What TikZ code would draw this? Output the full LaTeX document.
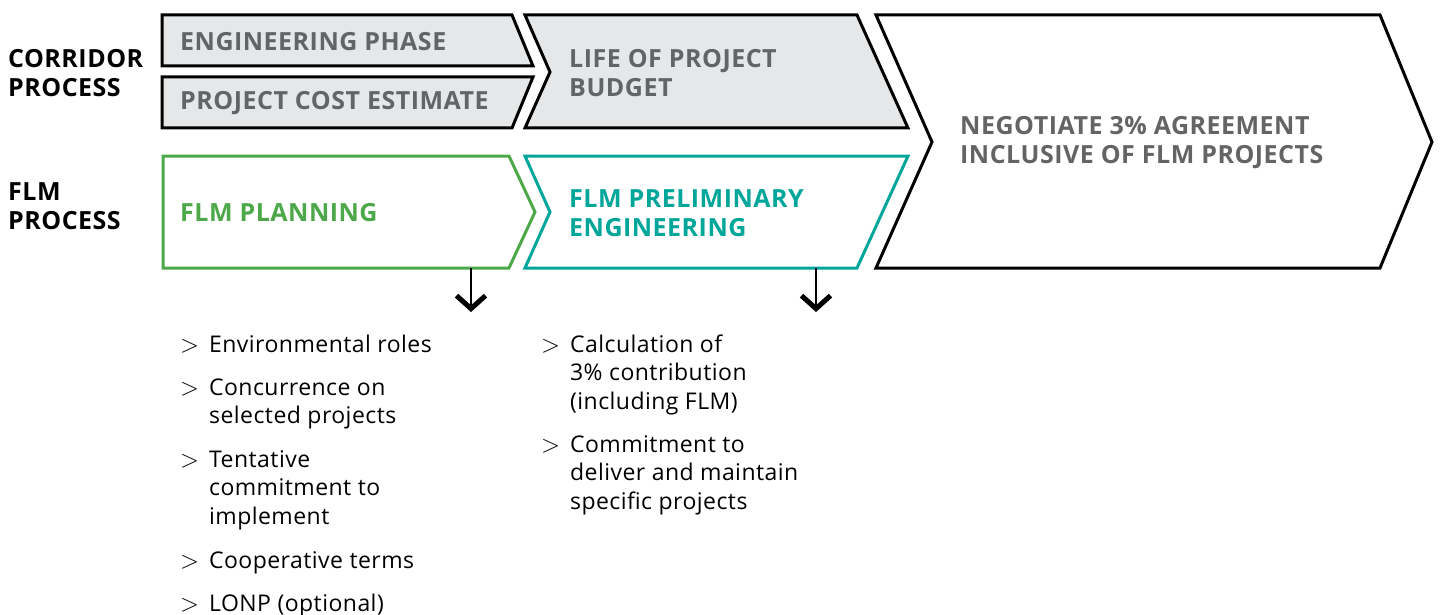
\documentclass[tikz,border=0pt]{standalone}
\usepackage{fontspec}
\setmainfont{Open Sans}
\usetikzlibrary{arrows.meta}
\definecolor{boxfill}{RGB}{230,231,232}
\definecolor{headgray}{RGB}{99,100,102}
\definecolor{flmgreen}{RGB}{76,168,72}
\definecolor{flmteal}{RGB}{0,166,153}
\tikzset{
  phase/.style={line width=3pt,line join=miter,miter limit=20},
  head/.style={inner sep=0,anchor=west,align=left,font=\fontsize{25}{29}\selectfont\bfseries\addfontfeatures{LetterSpace=2}},
  side/.style={head,text=black},
  itm/.style={inner sep=0,anchor=base west,font=\fontsize{23}{28.5}\selectfont\addfontfeatures{LetterSpace=2}},
  down/.style={line width=2.5pt,-{Straight Barb[length=13pt,width=29pt,line width=5pt]}}
}
\newcommand{\entry}[1]{\begin{tabular}[t]{@{}l@{\hspace{10pt}}l@{}}$>$ & #1\end{tabular}}
\begin{document}
\begin{tikzpicture}[x=1pt,y=-1pt]
  \useasboundingbox (0,0) rectangle (1440,615);
  % corridor row
  \coordinate (EP1) at (162,15);  \coordinate (EP2) at (512,15);
  \coordinate (EP3) at (533,66);  \coordinate (EP4) at (162,66);
  \coordinate (PC1) at (162,77);  \coordinate (PC2) at (533,77);
  \coordinate (PC3) at (512,128); \coordinate (PC4) at (162,128);
  \coordinate (LB1) at (525,15);  \coordinate (LB2) at (857,15);
  \coordinate (LB3) at (908,128); \coordinate (LB4) at (525,128);
  \coordinate (LB5) at (550,72);
  \draw [phase,fill=boxfill] (EP1) to (EP2) to (EP3) to (EP4) to cycle;
  \draw [phase,fill=boxfill] (PC1) to (PC2) to (PC3) to (PC4) to cycle;
  \draw [phase,fill=boxfill] (LB1) to (LB2) to (LB3) to (LB4) to (LB5) to cycle;
  % agreement
  \coordinate (NG1) at (876,15);   \coordinate (NG2) at (1380,15);
  \coordinate (NG3) at (1432,142); \coordinate (NG4) at (1380,268);
  \coordinate (NG5) at (876,268);  \coordinate (NG6) at (932,142);
  \draw [phase,fill=white] (NG1) to (NG2) to (NG3) to (NG4) to (NG5) to (NG6) to cycle;
  % flm row
  \coordinate (PL1) at (163,156);  \coordinate (PL2) at (509,156);
  \coordinate (PL3) at (535,212);  \coordinate (PL4) at (509,268);
  \coordinate (PL5) at (163,268);
  \coordinate (PE1) at (525,156);  \coordinate (PE2) at (908,156);
  \coordinate (PE3) at (857,268);  \coordinate (PE4) at (525,268);
  \coordinate (PE5) at (550,212);
  \draw [phase,draw=flmgreen] (PL1) to (PL2) to (PL3) to (PL4) to (PL5) to cycle;
  \draw [phase,draw=flmteal] (PE1) to (PE2) to (PE3) to (PE4) to (PE5) to cycle;

  \node [side] (corr) at (8,73) {CORRIDOR\\PROCESS};
  \node [side] (flm) at (8,206) {FLM\\PROCESS};
  \node [head,text=headgray] (engph) at (180,42) {ENGINEERING PHASE};
  \node [head,text=headgray] (cost) at (180,103) {PROJECT COST ESTIMATE};
  \node [head,text=headgray] (budget) at (569,73) {LIFE OF PROJECT\\BUDGET};
  \node [head,text=headgray] (negot) at (960,143) {NEGOTIATE 3\% AGREEMENT\\INCLUSIVE OF FLM PROJECTS};
  \node [head,text=flmgreen] (plan) at (180,213) {FLM PLANNING};
  \node [head,text=flmteal] (prelim) at (569,213) {FLM PRELIMINARY\\ENGINEERING};

  \coordinate (planout) at (471,268);  \coordinate (planend) at (471,312);
  \coordinate (prelout) at (816,268);  \coordinate (prelend) at (816,312);
  \draw [down] (planout) to (planend);
  \draw [down] (prelout) to (prelend);

  \node [itm] (p1) at (180,352) {\entry{Environmental roles}};
  \node [itm] (p2) at (180,395) {\entry{Concurrence on\\&selected projects}};
  \node [itm] (p3) at (180,467) {\entry{Tentative\\&commitment to\\&implement}};
  \node [itm] (p4) at (180,568) {\entry{Cooperative terms}};
  \node [itm] (p5) at (180,611) {\entry{LONP (optional)}};
  \node [itm] (e1) at (541,352) {\entry{Calculation of\\&3\% contribution\\&(including FLM)}};
  \node [itm] (e2) at (541,452) {\entry{Commitment to\\&deliver and maintain\\&specific projects}};
\end{tikzpicture}
\end{document}
